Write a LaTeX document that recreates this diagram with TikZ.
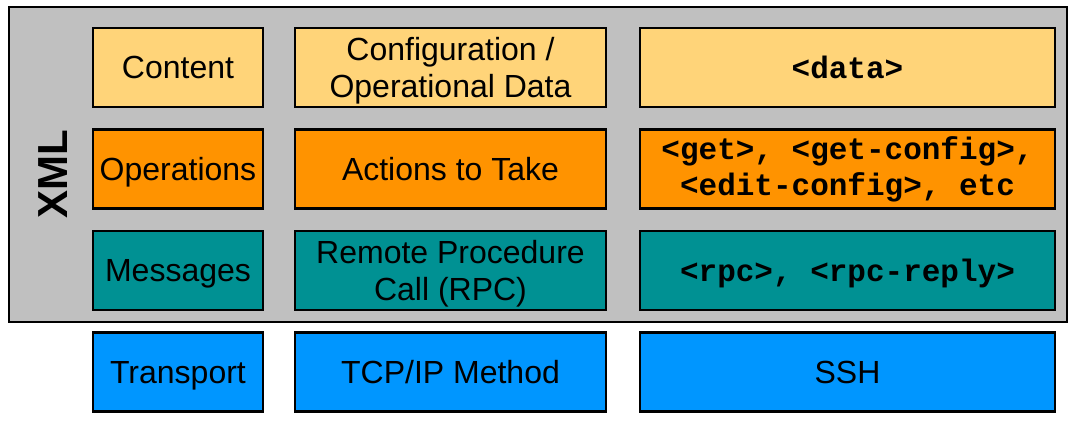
\documentclass[tikz,border=0pt]{standalone}
\usepackage{fontspec}
\setmainfont{Liberation Sans}
\setmonofont{Liberation Mono}
\usepackage{xcolor}
\usepackage{tikz}
\usetikzlibrary{positioning}

\definecolor{xmlgray}{HTML}{C0C0C0}
\definecolor{datacolor}{HTML}{FFD479}
\definecolor{opcolor}{HTML}{FF9300}
\definecolor{msgcolor}{HTML}{009193}
\definecolor{transcolor}{HTML}{0096FF}

% same line height for every row of text
\newcommand{\lstrut}{\rule[-0.22em]{0pt}{1.15em}}

\tikzset{
    layer/.style={draw, line width=2.5pt, align=center, inner sep=0pt,
        minimum height=79pt, font=\fontsize{32}{37}\selectfont,
        execute at begin node=\lstrut, execute at end node=\lstrut},
    firstcol/.style={layer, minimum width=170pt},
    secondcol/.style={layer, minimum width=311pt},
    thirdcol/.style={layer, minimum width=415pt},
    twoline/.style={align=center, font=\fontsize{32}{37}\selectfont},
    code/.style={font=\fontsize{31}{36}\selectfont\ttfamily\bfseries}
}

\begin{document}
\begin{tikzpicture}[x=1pt,y=-1pt]
    \useasboundingbox (0,0) rectangle (1072,422);

    % XML frame
    \draw[fill=xmlgray, line width=2.5pt] (9,7) rectangle (1067,322);
    \node[rotate=90, font=\fontsize{42}{42}\selectfont\bfseries] (xmllabel) at (53,174) {XML};

    % Content
    \node[firstcol, fill=datacolor] (content) at (178,67.5) {Content};
    \node[secondcol, fill=datacolor] (confdata) at (450.5,67.5) {};
    \node[twoline] (conftext) at ([yshift=-3pt]confdata.center) {Configuration /\\Operational Data};
    \node[thirdcol, fill=datacolor, code] (datatag) at (847.5,67.5) {<data>};

    % Operations
    \node[firstcol, fill=opcolor] (operations) at (178,169) {Operations};
    \node[secondcol, fill=opcolor] (actions) at (450.5,169) {Actions to Take};
    \node[thirdcol, fill=opcolor, code] (optags) at (847.5,169) {<get>, <get-config>,\\<edit-config>, etc};

    % Messages
    \node[firstcol, fill=msgcolor] (messages) at (178,270.5) {Messages};
    \node[secondcol, fill=msgcolor] (rpc) at (450.5,270.5) {};
    \node[twoline] (rpctext) at ([yshift=-3pt]rpc.center) {Remote Procedure\\Call (RPC)};
    \node[thirdcol, fill=msgcolor, code] (rpctags) at (847.5,270.5) {<rpc>, <rpc-reply>};

    % Transport
    \node[firstcol, fill=transcolor] (transport) at (178,372) {Transport};
    \node[secondcol, fill=transcolor] (tcpip) at (450.5,372) {TCP/IP Method};
    \node[thirdcol, fill=transcolor] (ssh) at (847.5,372) {SSH};
\end{tikzpicture}
\end{document}
